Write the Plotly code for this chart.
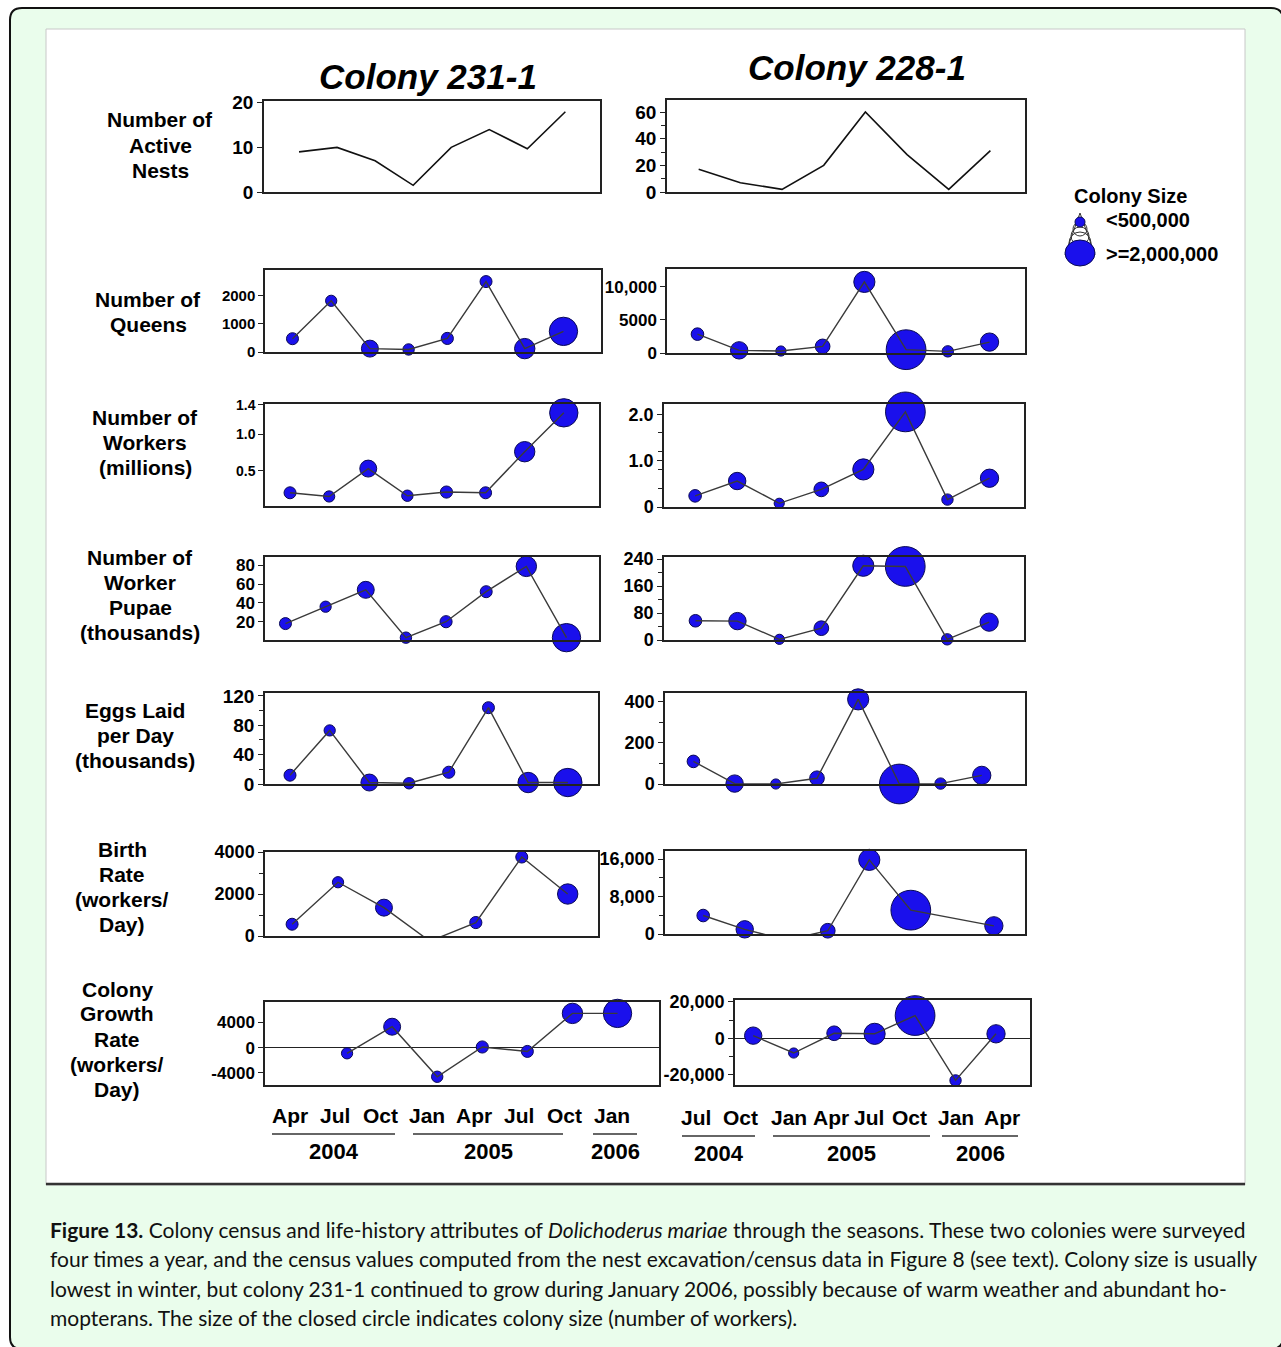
import plotly.graph_objects as go

W, H = 1281, 1347

# ---------------- data ----------------
months_231 = ["Apr", "Jul", "Oct", "Jan", "Apr", "Jul", "Oct", "Jan"]
years_231 = ["2004", "2005", "2006"]
months_228 = ["Jul", "Oct", "Jan", "Apr", "Jul", "Oct", "Jan", "Apr"]
years_228 = ["2004", "2005", "2006"]

nests_231 = [9, 10, 7, 1.5, 10, 14, 9.7, 18]
nests_228 = [17, 7, 2, 20, 60, 28, 2, 31]
queens_231 = [470, 1810, 120, 90, 480, 2490, 120, 730]
queens_228 = [2850, 400, 300, 1000, 10750, 500, 250, 1650]
workers_231 = [0.20, 0.15, 0.53, 0.16, 0.21, 0.20, 0.76, 1.29]
workers_228 = [0.24, 0.56, 0.08, 0.38, 0.81, 2.05, 0.16, 0.62]
pupae_231 = [18, 36, 54, 3, 20, 52, 79, 3]
pupae_228 = [57, 56, 2, 35, 220, 218, 2, 53]
eggs_231 = [12, 73, 2, 1, 16, 104, 2, 2]
eggs_228 = [110, 2, 0, 28, 412, 0, 2, 42]
birth_231 = [560, 2560, 1350, -250, 640, 3760, 2000]
birth_228 = [3950, 1000, -1300, 700, 15850, 5100, None, 1750]
growth_231 = [None, -900, 3300, -4600, 100, -600, 5400, 5400]
growth_228 = [None, 1500, -8000, 2800, 2500, 12500, -23000, 2500]

row_labels = [
    ["Number of", "Active", "Nests"],
    ["Number of", "Queens"],
    ["Number of", "Workers", "(millions)"],
    ["Number of", "Worker", "Pupae", "(thousands)"],
    ["Eggs Laid", "per Day", "(thousands)"],
    ["Birth", "Rate", "(workers/", "Day)"],
    ["Colony", "Growth", "Rate", "(workers/", "Day)"],
]
titles = ["Colony 231-1", "Colony 228-1"]
legend_title = "Colony Size"
legend_items = ["<500,000", ">=2,000,000"]

# ---------------- styling / helpers ----------------
BLUE = "#1a10ec"
NAVY = "#0a0a55"
AX = "#222222"
FONT = "Liberation Sans, Arial, sans-serif"


def fx(x):
    return x / W


def fy(y):
    return 1 - y / H


def msize(w):
    return 9 + 15 * w


def text(s, x, y, size, xanchor="center", weight="bold", style="normal",
         family=FONT, color="black"):
    return dict(text=s, x=fx(x), y=fy(y), xref="paper", yref="paper",
                xanchor=xanchor, yanchor="middle", showarrow=False,
                font=dict(family=family, size=size, color=color, weight=weight, style=style))


panels = [
    dict(y=nests_231, w=None, box=(264, 101, 600, 192), xr=(-0.92, 7.91), yr=(0, 20.4),
         tv=[0, 10, 20], tt=None, fs=19, minor=None),
    dict(y=nests_228, w=None, box=(667, 100, 1025, 192), xr=(-0.76, 7.83), yr=(0, 69),
         tv=[0, 20, 40, 60], tt=None, fs=19, minor=[10, 30, 50]),
    dict(y=queens_231, w=workers_231, box=(265, 270, 601, 352), xr=(-0.71, 7.97), yr=(0, 2900),
         tv=[0, 1000, 2000], tt=None, fs=15, minor=None),
    dict(y=queens_228, w=workers_228, box=(667, 269, 1025, 353), xr=(-0.73, 7.85), yr=(0, 12700),
         tv=[0, 5000, 10000], tt=["0", "5000", "10,000"], fs=17, minor=None),
    dict(y=workers_231, w=workers_231, box=(265, 404, 599, 506), xr=(-0.64, 7.90), yr=(0.02, 1.41),
         tv=[0.5, 1.0, 1.4], tt=["0.5", "1.0", "1.4"], fs=14, minor=None),
    dict(y=workers_228, w=workers_228, box=(664, 404, 1024, 507), xr=(-0.74, 7.82), yr=(0, 2.22),
         tv=[0, 1, 2], tt=["0", "1.0", "2.0"], fs=18, minor=[0.4, 0.8, 1.2, 1.6]),
    dict(y=pupae_231, w=workers_231, box=(265, 557, 599, 640), xr=(-0.51, 7.81), yr=(0.5, 89),
         tv=[20, 40, 60, 80], tt=None, fs=17, minor=None),
    dict(y=pupae_228, w=workers_228, box=(664, 557, 1024, 640), xr=(-0.75, 7.83), yr=(0, 246),
         tv=[0, 80, 160, 240], tt=None, fs=18, minor=[40, 120, 200]),
    dict(y=eggs_231, w=workers_231, box=(265, 693, 598, 784), xr=(-0.63, 7.76), yr=(0, 124),
         tv=[0, 40, 80, 120], tt=None, fs=19, minor=[20, 60, 100]),
    dict(y=eggs_228, w=workers_228, box=(665, 693, 1025, 784), xr=(-0.69, 8.05), yr=(0, 443),
         tv=[0, 200, 400], tt=None, fs=18, minor=[100, 300]),
    dict(y=birth_231, w=workers_231, box=(265, 852, 598, 936), xr=(-0.59, 6.66), yr=(0, 4000),
         tv=[0, 2000, 4000], tt=None, fs=18, minor=[1000, 3000]),
    dict(y=birth_228, w=workers_228, box=(665, 851, 1025, 934), xr=(-0.92, 7.75), yr=(0, 17750),
         tv=[0, 8000, 16000], tt=["0", "8,000", "16,000"], fs=18, minor=[4000, 12000]),
    dict(y=growth_231, w=workers_231, box=(265, 1002, 659, 1085), xr=(-0.82, 7.92), yr=(-5900, 7200),
         tv=[-4000, 0, 4000], tt=None, fs=17, minor=None, zero=True),
    dict(y=growth_228, w=workers_228, box=(735, 1000, 1030, 1085), xr=(0.55, 7.84), yr=(-25500, 21000),
         tv=[-20000, 0, 20000], tt=["-20,000", "0", "20,000"], fs=18, minor=[-10000, 10000], zero=True),
]

fig = go.Figure()
layout_axes = {}

for k, p in enumerate(panels, start=1):
    xs = list(range(len(p["y"])))
    xa = "x" if k == 1 else f"x{k}"
    ya = "y" if k == 1 else f"y{k}"
    if p["w"] is not None:
        ym = [v if (v is not None and v >= p["yr"][0]) else None for v in p["y"]]
        sizes = [msize(w) for w in p["w"][:len(p["y"])]]
        fig.add_trace(go.Scatter(
            x=xs, y=ym, mode="markers", xaxis=xa, yaxis=ya, cliponaxis=False,
            marker=dict(size=sizes, color=BLUE, opacity=1, line=dict(color=NAVY, width=1)),
            showlegend=False, hoverinfo="skip"))
        fig.add_trace(go.Scatter(
            x=xs, y=p["y"], mode="lines", xaxis=xa, yaxis=ya, connectgaps=True,
            line=dict(color="#3a3a3a", width=1.4), showlegend=False, hoverinfo="skip"))
    else:
        fig.add_trace(go.Scatter(
            x=xs, y=p["y"], mode="lines", xaxis=xa, yaxis=ya,
            line=dict(color="#111111", width=1.6), showlegend=False, hoverinfo="skip"))

    l, t, r, b = p["box"]
    xkey = "xaxis" if k == 1 else f"xaxis{k}"
    ykey = "yaxis" if k == 1 else f"yaxis{k}"
    layout_axes[xkey] = dict(
        domain=[fx(l), fx(r)], range=list(p["xr"]), anchor=ya, automargin=False,
        showline=True, mirror=True, linecolor=AX, linewidth=1.5,
        showticklabels=False, ticks="", showgrid=False, zeroline=False, fixedrange=True)
    yax = dict(
        domain=[fy(b), fy(t)], range=list(p["yr"]), anchor=xa, automargin=False,
        showline=True, mirror=True, linecolor=AX, linewidth=1.5,
        ticks="outside", ticklen=5, tickwidth=1.2, tickcolor=AX,
        tickmode="array", tickvals=p["tv"],
        ticktext=p["tt"] if p["tt"] else [str(v) for v in p["tv"]],
        tickfont=dict(family=FONT, size=p["fs"], color="black", weight="bold"),
        showgrid=False, zeroline=bool(p.get("zero", False)),
        zerolinecolor=AX, zerolinewidth=1.3, fixedrange=True)
    if p["minor"]:
        yax["minor"] = dict(tickmode="array", tickvals=p["minor"], ticks="outside",
                            ticklen=4, tickcolor=AX, showgrid=False)
    layout_axes[ykey] = yax

# ---------------- annotations ----------------
ann = []
ann.append(text(titles[0], 428, 77, 35, style="italic"))
ann.append(text(titles[1], 857, 68, 35, style="italic"))

label_pos = [(160, 145), (148, 312), (145, 442), (140, 595), (135, 735), (122, 887), (117, 1039)]
for lines, (cx, cy) in zip(row_labels, label_pos):
    n = len(lines)
    for i, s in enumerate(lines):
        ann.append(text(s, cx, cy + (i - (n - 1) / 2) * 25, 21))

mon_px_231 = [290, 335, 380, 427, 474, 519, 564, 612]
mon_px_228 = [696, 740, 789, 831, 869, 909, 956, 1002]
for m, xpx in zip(months_231, mon_px_231):
    ann.append(text(m, xpx, 1115, 21))
for m, xpx in zip(months_228, mon_px_228):
    ann.append(text(m, xpx, 1117, 21))

yr_lines_231 = [(272, 395), (413, 563), (593, 637)]
yr_lines_228 = [(682, 755), (773, 930), (942, 1018)]
shapes = []
for yv, (a, bb) in zip(years_231, yr_lines_231):
    shapes.append(dict(type="line", xref="paper", yref="paper", x0=fx(a), x1=fx(bb),
                       y0=fy(1134), y1=fy(1134), line=dict(color="#333", width=1.6)))
    ann.append(text(yv, (a + bb) / 2, 1151, 22))
for yv, (a, bb) in zip(years_228, yr_lines_228):
    shapes.append(dict(type="line", xref="paper", yref="paper", x0=fx(a), x1=fx(bb),
                       y0=fy(1136), y1=fy(1136), line=dict(color="#333", width=1.6)))
    ann.append(text(yv, (a + bb) / 2, 1153, 22))

# legend texts
ann.append(text(legend_title, 1130, 196, 20))
ann.append(text(legend_items[0], 1104, 220, 20, xanchor="left"))
ann.append(text(legend_items[1], 1104, 254, 20, xanchor="left"))

# caption
cap_lines = [
    "<b>Figure 13.</b> Colony census and life-history attributes of <i>Dolichoderus mariae</i> through the seasons. These two colonies were surveyed",
    "four times a year, and the census values computed from the nest excavation/census data in Figure 8 (see text). Colony size is usually",
    "lowest in winter, but colony 231-1 continued to grow during January 2006, possibly because of warm weather and abundant ho-",
    "mopterans. The size of the closed circle indicates colony size (number of workers).",
]
for i, s in enumerate(cap_lines):
    ann.append(text(s, 48, 1229 + i * 29.5, 21, xanchor="left", weight="normal",
                    family="Lato, Liberation Sans, sans-serif", color="#111"))

# ---------------- background shapes ----------------
def P(x, y):
    return f"{fx(x):.6f},{fy(y):.6f}"


r0 = 12
L_, T_, R_, B_ = 10, 8, 1283, 1349
frame = (f"M {P(L_ + r0, T_)} L {P(R_ - r0, T_)} Q {P(R_, T_)} {P(R_, T_ + r0)} "
         f"L {P(R_, B_ - r0)} Q {P(R_, B_)} {P(R_ - r0, B_)} L {P(L_ + r0, B_)} "
         f"Q {P(L_, B_)} {P(L_, B_ - r0)} L {P(L_, T_ + r0)} Q {P(L_, T_)} {P(L_ + r0, T_)} Z")
bg_shapes = [
    dict(type="path", path=frame, xref="paper", yref="paper", fillcolor="#eafdec",
         line=dict(color="#111", width=2), layer="below"),
    dict(type="rect", xref="paper", yref="paper", x0=fx(46), x1=fx(1245), y0=fy(1185), y1=fy(29),
         fillcolor="white", line=dict(color="#c8c8c8", width=1), layer="below"),
    dict(type="line", xref="paper", yref="paper", x0=fx(46), x1=fx(1245), y0=fy(1184), y1=fy(1184),
         line=dict(color="#333", width=2.5)),
]

cx_leg = 1080
leg_shapes = [
    dict(type="line", xref="paper", yref="paper", x0=fx(cx_leg), y0=fy(213), x1=fx(cx_leg - 15),
         y1=fy(255), line=dict(color="#333", width=1)),
    dict(type="line", xref="paper", yref="paper", x0=fx(cx_leg), y0=fy(213), x1=fx(cx_leg + 15),
         y1=fy(255), line=dict(color="#333", width=1)),
]
for rr, cyc in [(7, 229), (9, 236), (11, 243)]:
    leg_shapes.append(dict(type="circle", xref="paper", yref="paper",
                           x0=fx(cx_leg - rr), x1=fx(cx_leg + rr), y0=fy(cyc + rr), y1=fy(cyc - rr),
                           line=dict(color="#333", width=1)))
leg_shapes.append(dict(type="circle", xref="paper", yref="paper",
                       x0=fx(cx_leg - 15), x1=fx(cx_leg + 15), y0=fy(253 + 13), y1=fy(253 - 13),
                       fillcolor=BLUE, line=dict(color=NAVY, width=1)))
leg_shapes.append(dict(type="circle", xref="paper", yref="paper",
                       x0=fx(cx_leg - 5), x1=fx(cx_leg + 5), y0=fy(222 + 5), y1=fy(222 - 5),
                       fillcolor=BLUE, line=dict(color=NAVY, width=1)))

fig.update_layout(
    width=W, height=H, margin=dict(l=0, r=0, t=0, b=0, autoexpand=False),
    paper_bgcolor="white", plot_bgcolor="rgba(0,0,0,0)",
    showlegend=False, annotations=ann,
    shapes=bg_shapes + shapes + leg_shapes,
    **layout_axes,
)

fig.write_html("out.html",
               post_script="document.body.style.margin='0';document.body.style.overflow='hidden';",
               config={"displayModeBar": False})
